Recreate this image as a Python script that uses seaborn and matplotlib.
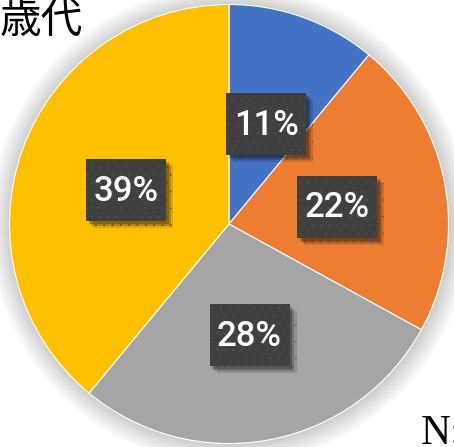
import numpy as np
import matplotlib
matplotlib.use("Agg")
import matplotlib.pyplot as plt
import matplotlib.patheffects as pe
from matplotlib.patches import Rectangle, Circle
import seaborn as sns

# Age-group shares (percent), clockwise from 12 o'clock
groups = ["A", "B", "C", "D"]
shares = [11, 22, 28, 39]
colors = ["#4472C4", "#ED7D31", "#A5A5A5", "#FFC000"]
title_text = "歳代"
note_text = "N:"

sns.set_theme(style="white")
plt.rcParams["font.family"] = ["Noto Sans CJK JP", "DejaVu Sans"]
plt.rcParams["hatch.linewidth"] = 0.0

W, H, DPI = 454, 447, 100
fig = plt.figure(figsize=(W / DPI, H / DPI), dpi=DPI)
fig.patch.set_facecolor("white")
ax = fig.add_axes([0, 0, 1, 1])

# pie geometry in pixels
cx, cy, rad = 229.0, 224.0, 219.5

# soft glow behind the pie
for i in range(16):
    r = 1.0 + 0.006 * (i + 1)
    ax.add_patch(Circle((0.003, -0.004), r, color="black", alpha=0.013,
                        lw=0, zorder=0))

wedges, texts, autotexts = ax.pie(
    shares,
    colors=colors,
    startangle=90,
    counterclock=False,
    radius=1.0,
    autopct="%d%%",
    pctdistance=0.5,
    wedgeprops=dict(edgecolor="white", linewidth=0.8),
    textprops=dict(color="white", fontsize=25, family="Roboto",
                   fontweight="medium"),
)
for w in wedges:
    w.set_zorder(2)

bw, bh = 80 / rad, 62 / rad
dy = -3.5 / rad
for t in autotexts:
    x, y = t.get_position()
    y += dy
    box = Rectangle((x - bw / 2, y - bh / 2), bw, bh,
                    facecolor="#404040", edgecolor="#575757", lw=0,
                    hatch="..", zorder=4)
    box.set_path_effects([
        pe.SimplePatchShadow(offset=(5, -5), shadow_rgbFace="black", alpha=0.12),
        pe.SimplePatchShadow(offset=(3.5, -3.5), shadow_rgbFace="black", alpha=0.2),
        pe.SimplePatchShadow(offset=(2, -2), shadow_rgbFace="black", alpha=0.25),
        pe.Normal(),
    ])
    ax.add_patch(box)
    t.set_zorder(5)
    t.set_position((x, y - 0.004))

ax.set_xlim(-cx / rad, (W - cx) / rad)
ax.set_ylim(-(H - cy) / rad, cy / rad)
ax.set_aspect("auto")
ax.axis("off")

fig.text(0.0, 1.0 - 2 / H, title_text, ha="left", va="top",
         fontsize=30, color="black", family=["Noto Sans CJK JP"])
fig.text(421 / W, 1.0 - 415 / H, note_text, ha="left", va="top",
         fontsize=30, color="black", family=["Liberation Serif"])

fig.savefig("out.png", dpi=DPI)
